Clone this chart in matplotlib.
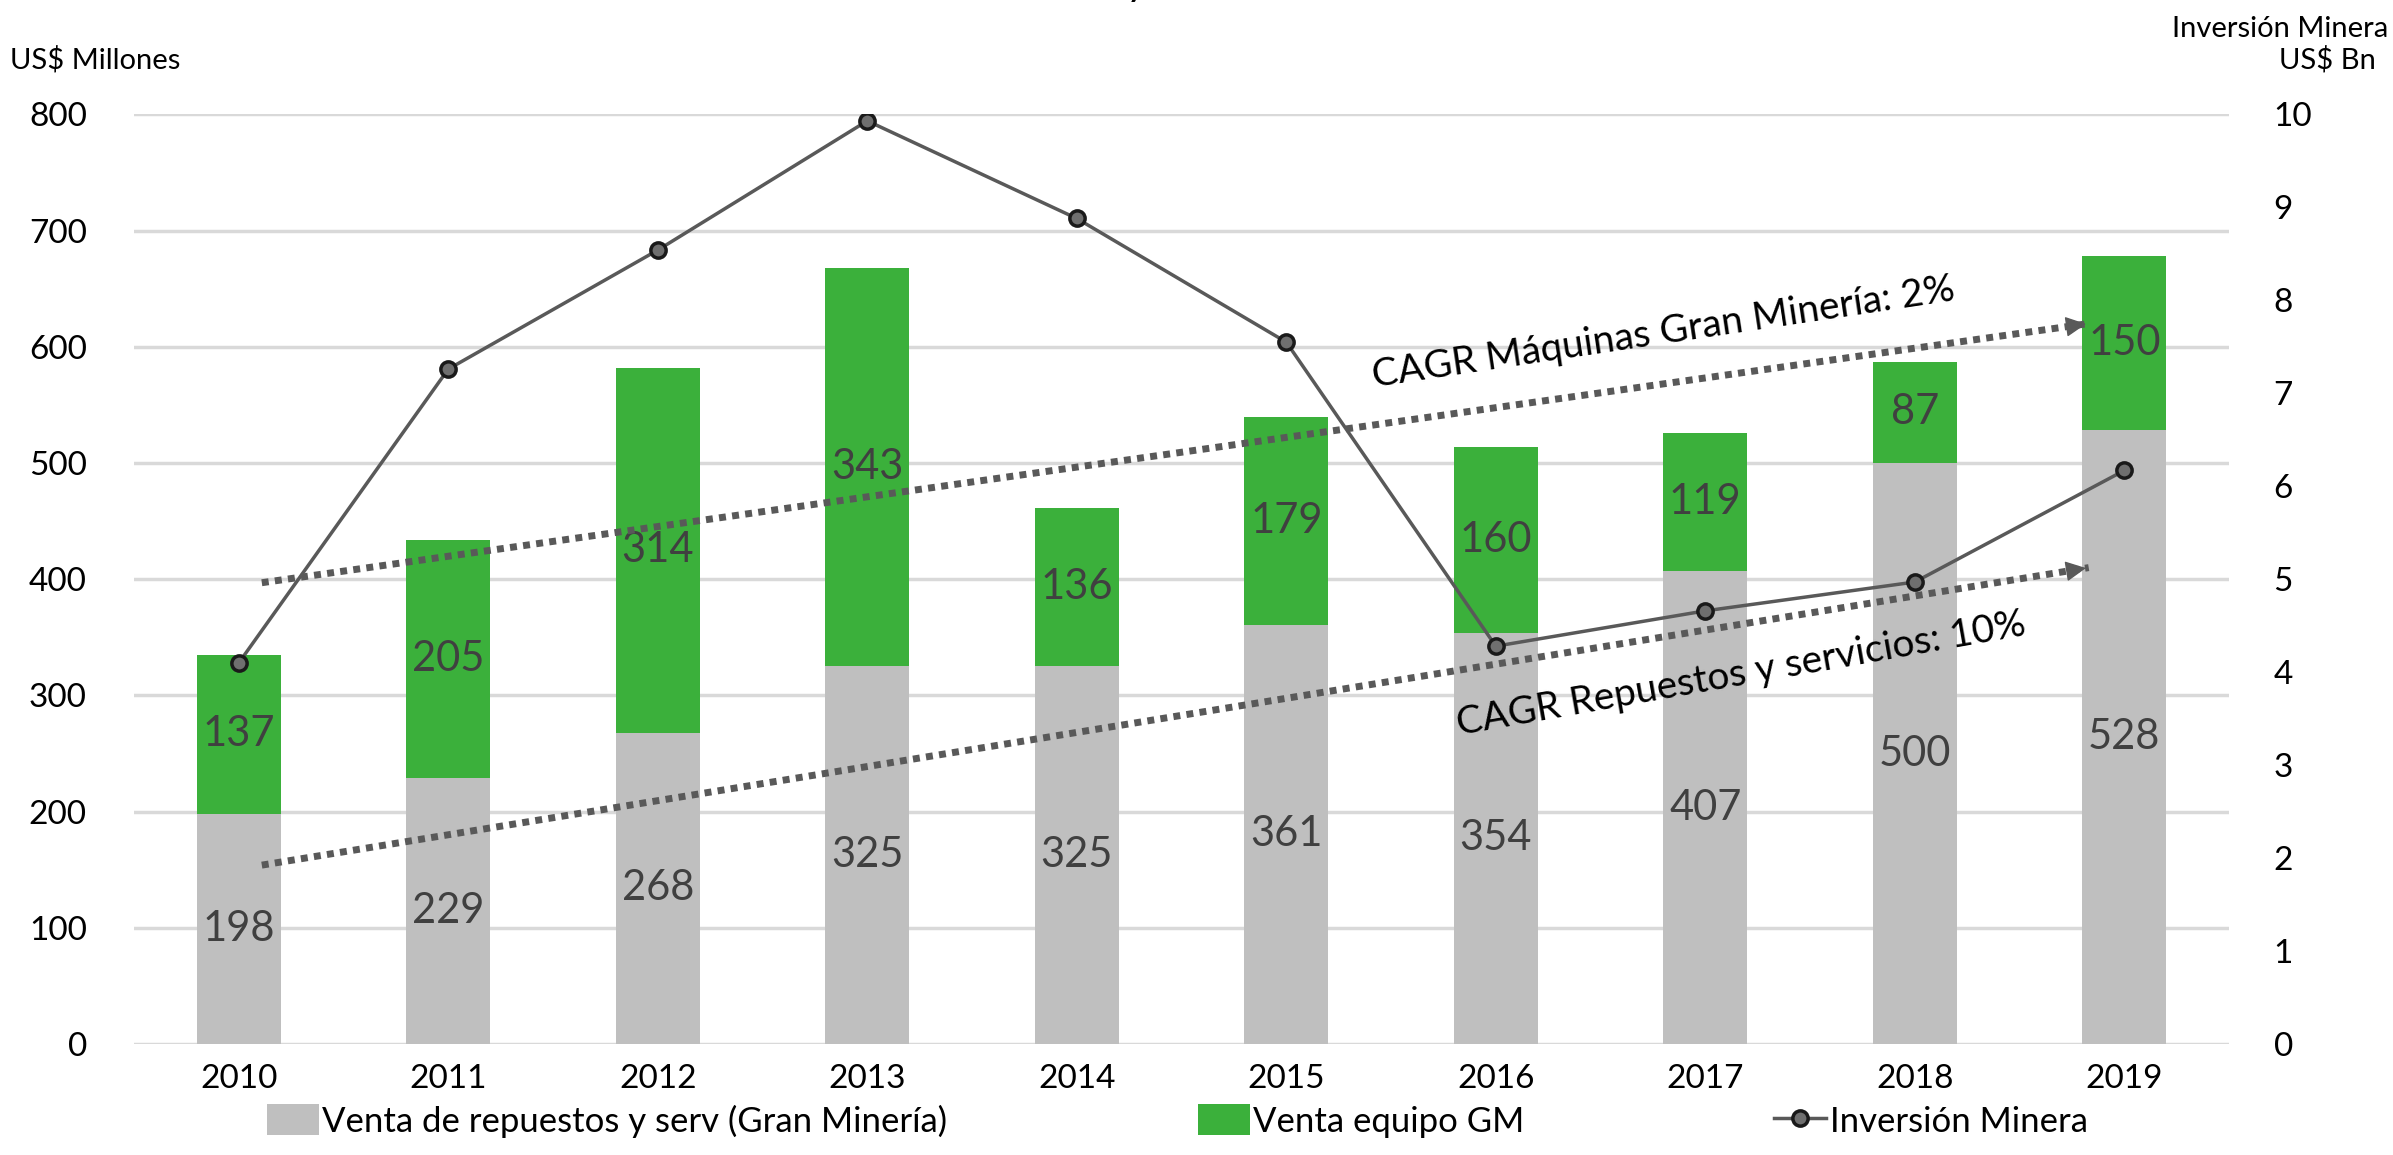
import matplotlib.pyplot as plt
import numpy as np

plt.rcParams['font.family'] = ['Lato', 'DejaVu Sans']

# === Data ====================================================================
years = ["2010", "2011", "2012", "2013", "2014", "2015", "2016", "2017", "2018", "2019"]
repuestos = [198, 229, 268, 325, 325, 361, 354, 407, 500, 528]
equipo = [137, 205, 314, 343, 136, 179, 160, 119, 87, 150]
inversion = [4.1, 7.26, 8.54, 9.93, 8.88, 7.55, 4.28, 4.66, 4.97, 6.17]

# trend arrows (x in category units, y in US$ Millones)
cagr_maq_x = [0.11, 8.83]
cagr_maq_y = [397, 620]
cagr_rep_x = [0.11, 8.83]
cagr_rep_y = [154, 410]

GRAY = "#bfbfbf"
GREEN = "#3bb03b"
LINE = "#595959"
TXT = "#404040"

fig = plt.figure(figsize=(23.93, 11.55), dpi=100)
ax = fig.add_axes([0.056, 0.096, 0.8755, 0.805])
x = np.arange(len(years))

b1 = ax.bar(x, repuestos, width=0.4, color=GRAY, zorder=2,
            label="Venta de repuestos y serv (Gran Minería)")
b2 = ax.bar(x, equipo, width=0.4, bottom=repuestos, color=GREEN, zorder=2,
            label="Venta equipo GM")

for xi, r, e in zip(x, repuestos, equipo):
    ax.text(xi, r / 2, str(r), ha="center", va="center", fontsize=30, color=TXT, zorder=5)
    ax.text(xi, r + e / 2, str(e), ha="center", va="center", fontsize=30, color=TXT, zorder=5)

ax.set_xlim(-0.5, 9.5)
ax.set_ylim(0, 800)
ax.set_yticks(range(0, 801, 100))
ax.set_xticks(x)
ax.set_xticklabels(years)
ax.grid(axis="y", color="#d9d9d9", lw=2.5, zorder=0)
ax.set_axisbelow(True)
for s in ax.spines.values():
    s.set_visible(False)
ax.tick_params(axis="both", length=0, labelsize=24, colors="black", pad=14)
ax.tick_params(axis="y", pad=34)

# === Trend arrows ============================================================
for xs, ys in [(cagr_maq_x, cagr_maq_y), (cagr_rep_x, cagr_rep_y)]:
    ax.plot(xs, ys, ls=(0, (1, 0.9)), lw=5, color=LINE, zorder=6)
    dx = xs[1] - xs[0]
    dy = ys[1] - ys[0]
    ax.annotate("", xy=(xs[1], ys[1]), xytext=(xs[1] - dx * 0.01, ys[1] - dy * 0.01),
                arrowprops=dict(arrowstyle="-|>", color=LINE, lw=1, mutation_scale=32),
                zorder=7)

ax.text(6.8, 612, "CAGR Máquinas Gran Minería: 2%", fontsize=28, rotation=8.5,
        ha="center", va="center", color="black", zorder=8)
ax.text(7.17, 318, "CAGR Repuestos y servicios: 10%", fontsize=28, rotation=10,
        ha="center", va="center", color="black", zorder=8)

# === Secondary axis ==========================================================
ax2 = ax.twinx()
ax2.set_ylim(0, 10)
ax2.set_yticks(range(0, 11))
for s in ax2.spines.values():
    s.set_visible(False)
ax2.tick_params(axis="y", length=0, labelsize=24, pad=32)
ln, = ax2.plot(x, inversion, color=LINE, lw=2.5, marker="o", markersize=11,
               markerfacecolor="#6f6f6f", markeredgecolor="#1a1a1a", markeredgewidth=2.5,
               label="Inversión Minera", zorder=10)

# axis titles
fig.text(0.004, 0.948, "US$ Millones", fontsize=21, ha="left", va="center")
fig.text(0.998, 0.975, "Inversión Minera", fontsize=21, ha="right", va="center")
fig.text(0.993, 0.948, "US$ Bn", fontsize=21, ha="right", va="center")
# clipped title remnant
fig.text(0.475, 1.004, "y", fontsize=30, ha="center", va="baseline")

fig.legend(handles=[b1, b2, ln], loc="lower center", bbox_to_anchor=(0.492, -0.012),
           ncol=3, frameon=False, fontsize=25, columnspacing=7.2, handlelength=1.5,
           handletextpad=0.1, handleheight=1.0)

fig.savefig("out.png", dpi=100)
